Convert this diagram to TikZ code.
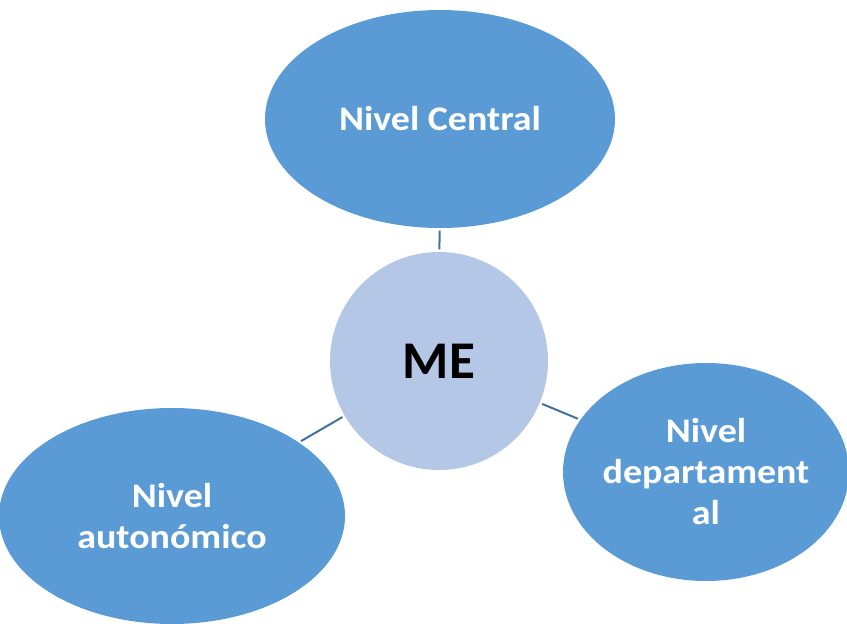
\documentclass[tikz,border=0pt]{standalone}
\usepackage{fontspec}
\setmainfont{Carlito}
\newfontfamily\outerfont[FakeStretch=1.1]{Carlito}
\usetikzlibrary{shapes.geometric}
\definecolor{outerblue}{HTML}{5B9BD5}
\definecolor{innerblue}{HTML}{B4C7E7}
\definecolor{linkblue}{HTML}{41719C}
\begin{document}
\begin{tikzpicture}[x=1pt,y=-1pt,
  outer/.style={ellipse,fill=outerblue,draw=none,inner sep=-12pt,align=center,
    text=white,font=\outerfont\fontsize{34.5}{41}\selectfont\bfseries},
  hub/.style={circle,fill=innerblue,draw=none,inner sep=0pt,minimum size=218pt,
    font=\fontsize{53}{60}\selectfont\bfseries},
  link/.style={draw=linkblue,line width=2pt,shorten >=2.5pt,shorten <=2.5pt}]
\useasboundingbox (0,0) rectangle (847,624);
\node[hub] (me) at (439,361) {ME};
\node[outer,minimum width=350pt,minimum height=218pt] (central) at (440,119) {Nivel Central};
\node[outer,minimum width=286pt,minimum height=218pt] (dep) at (706,472) {Nivel\\departament\\al};
\node[outer,minimum width=346pt,minimum height=216pt] (aut) at (172,516) {Nivel\\autonómico};
\draw[link] (me) -- (central);
\draw[link] (me) -- (dep);
\draw[link] (me) -- (aut);
\end{tikzpicture}
\end{document}
